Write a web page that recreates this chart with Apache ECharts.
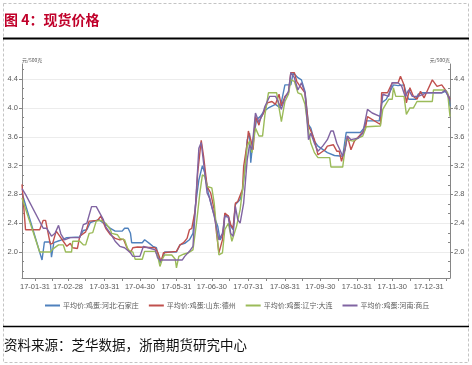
<!DOCTYPE html>
<html><head><meta charset="utf-8">
<script src="https://cdn.jsdelivr.net/npm/echarts@6/dist/echarts.min.js"></script>
<style>html,body{margin:0;padding:0;background:#fff}#c{width:472px;height:365px}</style>
</head><body><div id="c"></div>
<script>
const titleText = '图 4：现货价格';
const sourceText = '资料来源：芝华数据，浙商期货研究中心';
const unitName = '元/500克';
const seriesNames = ['平均价:鸡蛋:河北:石家庄', '平均价:鸡蛋:山东:德州', '平均价:鸡蛋:辽宁:大连', '平均价:鸡蛋:河南:商丘'];
const seriesColors = ['#4F81BD', '#C0504D', '#9BBB59', '#8064A2'];
const startDate = '2017-01-20';
const endDate = '2018-01-18';
const monthEndLabels = ['2017-01-31','2017-02-28','2017-03-31','2017-04-30','2017-05-31','2017-06-30','2017-07-31','2017-08-31','2017-09-30','2017-10-31','2017-11-30','2017-12-31'];
const yTickValues = [2.0, 2.4, 2.8, 3.2, 3.6, 4.0, 4.4];

const hebei = [['2017-01-20',2.82],['2017-02-06',1.89],['2017-02-08',2.14],['2017-02-13',2.14],['2017-02-14',1.93],['2017-02-16',2.13],['2017-02-21',2.16],['2017-02-27',2.20],['2017-03-10',2.21],['2017-03-13',2.30],['2017-03-16',2.31],['2017-03-19',2.41],['2017-03-26',2.45],['2017-04-01',2.38],['2017-04-05',2.33],['2017-04-09',2.29],['2017-04-15',2.29],['2017-04-17',2.33],['2017-04-20',2.33],['2017-04-22',2.26],['2017-04-23',2.13],['2017-05-02',2.13],['2017-05-04',2.17],['2017-05-08',2.12],['2017-05-11',2.08],['2017-05-14',2.06],['2017-05-17',1.85],['2017-05-20',1.95],['2017-05-21',2.00],['2017-05-31',2.00],['2017-06-03',2.10],['2017-06-07',2.12],['2017-06-11',2.17],['2017-06-14',2.26],['2017-06-16',2.63],['2017-06-19',3.00],['2017-06-22',3.20],['2017-06-24',3.10],['2017-06-27',2.82],['2017-06-30',2.63],['2017-07-03',2.45],['2017-07-05',2.36],['2017-07-07',2.17],['2017-07-10',2.26],['2017-07-11',2.52],['2017-07-14',2.50],['2017-07-16',2.36],['2017-07-18',2.31],['2017-07-20',2.66],['2017-07-24',2.73],['2017-07-26',2.85],['2017-07-28',3.14],['2017-07-30',3.56],['2017-08-01',3.65],['2017-08-02',3.24],['2017-08-04',3.56],['2017-08-07',3.84],['2017-08-10',3.88],['2017-08-13',3.95],['2017-08-17',4.00],['2017-08-23',4.05],['2017-08-27',4.00],['2017-08-28',4.02],['2017-08-31',4.32],['2017-09-05',4.32],['2017-09-07',4.49],['2017-09-11',4.42],['2017-09-14',4.39],['2017-09-17',4.23],['2017-09-20',3.77],['2017-09-22',3.72],['2017-09-25',3.54],['2017-09-28',3.47],['2017-10-06',3.38],['2017-10-12',3.34],['2017-10-19',3.33],['2017-10-22',3.66],['2017-11-03',3.66],['2017-11-06',3.72],['2017-11-08',3.82],['2017-11-19',3.82],['2017-11-21',4.07],['2017-11-25',4.12],['2017-11-27',4.19],['2017-12-01',4.32],['2017-12-05',4.31],['2017-12-10',4.32],['2017-12-12',4.19],['2017-12-14',4.12],['2017-12-20',4.12],['2017-12-22',4.19],['2017-12-25',4.21],['2018-01-11',4.21],['2018-01-14',4.23],['2018-01-17',4.16],['2018-01-18',4.02]];

const shandong = [['2017-01-20',2.94],['2017-01-23',2.31],['2017-02-04',2.31],['2017-02-07',2.44],['2017-02-09',2.44],['2017-02-13',2.11],['2017-02-15',2.12],['2017-02-18',2.29],['2017-02-21',2.22],['2017-02-24',2.15],['2017-02-27',2.08],['2017-03-02',2.12],['2017-03-04',2.06],['2017-03-08',2.05],['2017-03-10',2.22],['2017-03-15',2.28],['2017-03-18',2.43],['2017-03-25',2.44],['2017-03-28',2.50],['2017-03-30',2.41],['2017-04-01',2.33],['2017-04-05',2.24],['2017-04-06',2.26],['2017-04-09',2.19],['2017-04-13',2.17],['2017-04-16',2.18],['2017-04-19',2.06],['2017-04-22',1.99],['2017-04-24',2.06],['2017-04-28',2.07],['2017-05-13',2.06],['2017-05-15',2.00],['2017-05-18',1.87],['2017-05-20',1.99],['2017-05-31',2.01],['2017-06-03',2.10],['2017-06-06',2.13],['2017-06-09',2.19],['2017-06-11',2.31],['2017-06-13',2.33],['2017-06-16',2.59],['2017-06-18',3.10],['2017-06-21',3.55],['2017-06-23',3.33],['2017-06-26',2.91],['2017-06-29',2.82],['2017-07-02',2.59],['2017-07-04',2.26],['2017-07-06',1.99],['2017-07-09',2.17],['2017-07-11',2.54],['2017-07-14',2.50],['2017-07-16',2.38],['2017-07-18',2.33],['2017-07-20',2.68],['2017-07-22',2.70],['2017-07-26',2.87],['2017-07-27',3.19],['2017-07-30',3.51],['2017-07-31',3.68],['2017-08-02',3.56],['2017-08-04',3.42],['2017-08-06',3.88],['2017-08-09',3.76],['2017-08-10',3.85],['2017-08-13',3.93],['2017-08-16',4.07],['2017-08-20',4.09],['2017-08-23',4.05],['2017-08-26',4.19],['2017-08-28',4.03],['2017-08-31',4.16],['2017-09-03',4.21],['2017-09-05',4.49],['2017-09-08',4.49],['2017-09-10',4.37],['2017-09-12',4.32],['2017-09-17',4.21],['2017-09-20',3.75],['2017-09-22',3.68],['2017-09-25',3.56],['2017-09-28',3.35],['2017-10-04',3.42],['2017-10-06',3.47],['2017-10-11',3.49],['2017-10-14',3.40],['2017-10-16',3.40],['2017-10-18',3.26],['2017-10-21',3.44],['2017-10-23',3.61],['2017-10-26',3.42],['2017-10-29',3.54],['2017-11-02',3.61],['2017-11-07',3.70],['2017-11-09',3.88],['2017-11-20',3.77],['2017-11-21',4.21],['2017-11-26',4.21],['2017-11-30',4.35],['2017-12-05',4.35],['2017-12-07',4.44],['2017-12-10',4.32],['2017-12-12',4.07],['2017-12-15',4.28],['2017-12-18',4.16],['2017-12-21',4.12],['2017-12-24',4.23],['2017-12-27',4.14],['2017-12-29',4.21],['2018-01-03',4.39],['2018-01-07',4.30],['2018-01-11',4.32],['2018-01-15',4.23],['2018-01-18',4.12]];

const liaoning = [['2017-01-20',2.75],['2017-02-04',2.00],['2017-02-13',2.00],['2017-02-15',2.04],['2017-02-20',2.10],['2017-02-24',2.10],['2017-02-26',2.00],['2017-03-03',2.00],['2017-03-04',2.15],['2017-03-10',2.15],['2017-03-13',2.10],['2017-03-15',2.10],['2017-03-18',2.26],['2017-03-21',2.27],['2017-03-24',2.43],['2017-03-28',2.44],['2017-04-01',2.40],['2017-04-05',2.31],['2017-04-06',2.26],['2017-04-11',2.24],['2017-04-13',2.19],['2017-04-17',2.17],['2017-04-20',2.03],['2017-04-24',2.00],['2017-04-26',1.90],['2017-05-02',1.90],['2017-05-04',2.01],['2017-05-13',2.01],['2017-05-15',1.95],['2017-05-17',1.80],['2017-05-19',1.90],['2017-05-21',1.96],['2017-05-27',1.96],['2017-05-30',1.90],['2017-05-31',1.78],['2017-06-02',1.94],['2017-06-06',1.97],['2017-06-10',1.99],['2017-06-14',2.03],['2017-06-17',2.40],['2017-06-20',2.84],['2017-06-22',3.07],['2017-06-24',3.05],['2017-06-26',2.91],['2017-06-30',2.89],['2017-07-02',2.68],['2017-07-04',2.31],['2017-07-06',1.96],['2017-07-09',1.99],['2017-07-11',2.31],['2017-07-14',2.40],['2017-07-17',2.15],['2017-07-18',2.13],['2017-07-21',2.36],['2017-07-24',2.59],['2017-07-27',3.00],['2017-07-30',3.47],['2017-08-01',3.54],['2017-08-03',3.38],['2017-08-06',3.72],['2017-08-09',3.61],['2017-08-12',3.61],['2017-08-14',3.90],['2017-08-17',4.21],['2017-08-24',4.21],['2017-08-26',4.00],['2017-08-28',3.81],['2017-08-31',4.09],['2017-09-03',4.19],['2017-09-05',4.39],['2017-09-08',4.37],['2017-09-11',4.21],['2017-09-14',4.19],['2017-09-17',4.05],['2017-09-20',3.68],['2017-09-22',3.51],['2017-09-25',3.38],['2017-09-28',3.31],['2017-10-08',3.31],['2017-10-09',3.18],['2017-10-19',3.18],['2017-10-22',3.56],['2017-10-28',3.54],['2017-11-01',3.58],['2017-11-05',3.61],['2017-11-08',3.74],['2017-11-20',3.75],['2017-11-22',3.98],['2017-11-27',4.12],['2017-11-30',4.12],['2017-12-01',4.28],['2017-12-03',4.16],['2017-12-10',4.16],['2017-12-12',3.91],['2017-12-15',4.00],['2017-12-18',4.00],['2017-12-21',4.09],['2018-01-03',4.09],['2018-01-04',4.25],['2018-01-14',4.25],['2018-01-16',4.21],['2018-01-18',3.88]];

const henan = [['2017-01-20',2.88],['2017-01-23',2.80],['2017-02-07',2.33],['2017-02-10',2.33],['2017-02-14',2.22],['2017-02-17',2.26],['2017-02-20',2.37],['2017-02-22',2.25],['2017-02-25',2.17],['2017-03-02',2.20],['2017-03-10',2.20],['2017-03-13',2.38],['2017-03-16',2.40],['2017-03-20',2.63],['2017-03-24',2.63],['2017-03-27',2.54],['2017-03-30',2.45],['2017-04-01',2.35],['2017-04-05',2.26],['2017-04-09',2.15],['2017-04-13',2.08],['2017-04-17',2.06],['2017-04-22',1.99],['2017-04-24',1.94],['2017-04-30',1.94],['2017-05-03',2.08],['2017-05-07',2.06],['2017-05-13',2.03],['2017-05-15',1.92],['2017-05-17',1.89],['2017-06-05',1.89],['2017-06-07',1.94],['2017-06-11',2.01],['2017-06-14',2.08],['2017-06-16',2.60],['2017-06-19',3.44],['2017-06-21',3.52],['2017-06-24',3.10],['2017-06-26',2.82],['2017-06-28',2.75],['2017-07-02',2.50],['2017-07-06',2.17],['2017-07-09',2.26],['2017-07-11',2.50],['2017-07-14',2.48],['2017-07-16',2.26],['2017-07-18',2.22],['2017-07-20',2.63],['2017-07-22',2.45],['2017-07-24',2.40],['2017-07-27',2.68],['2017-07-30',3.28],['2017-08-01',3.49],['2017-08-03',3.42],['2017-08-06',3.93],['2017-08-09',3.80],['2017-08-12',3.91],['2017-08-14',4.02],['2017-08-18',4.16],['2017-08-23',4.16],['2017-08-25',4.10],['2017-08-28',3.98],['2017-08-31',4.14],['2017-09-03',4.23],['2017-09-05',4.49],['2017-09-08',4.42],['2017-09-11',4.25],['2017-09-14',4.35],['2017-09-17',4.21],['2017-09-20',3.56],['2017-09-22',3.65],['2017-09-25',3.51],['2017-09-28',3.40],['2017-10-02',3.47],['2017-10-06',3.56],['2017-10-09',3.68],['2017-10-11',3.68],['2017-10-14',3.51],['2017-10-16',3.44],['2017-10-19',3.33],['2017-10-21',3.42],['2017-10-23',3.61],['2017-10-26',3.56],['2017-11-01',3.58],['2017-11-05',3.65],['2017-11-09',3.98],['2017-11-13',3.93],['2017-11-20',3.88],['2017-11-22',4.19],['2017-11-27',4.16],['2017-11-30',4.35],['2017-12-05',4.35],['2017-12-08',4.30],['2017-12-11',4.16],['2017-12-14',4.25],['2017-12-17',4.16],['2017-12-22',4.16],['2017-12-29',4.21],['2018-01-11',4.21],['2018-01-14',4.25],['2018-01-17',4.14],['2018-01-18',4.10]];

const seriesData = [hebei, shandong, liaoning, henan];

function fmt(d) {
  const m = String(d.getUTCMonth() + 1).padStart(2, '0');
  const dd = String(d.getUTCDate()).padStart(2, '0');
  return d.getUTCFullYear() + '-' + m + '-' + dd;
}
const days = [];
for (let t = Date.parse(startDate + 'T00:00:00Z'); t <= Date.parse(endDate + 'T00:00:00Z'); t += 86400000) {
  days.push(fmt(new Date(t)));
}
const isMonthEnd = (v) => monthEndLabels.indexOf(v) >= 0;
const isTick = (v) => isMonthEnd(v) || v.slice(8) === '15';

// minor tick positions: thirds between the labelled ticks (styling only)
const yMinorTicks = [];
for (let i = -1; i < yTickValues.length; i++) {
  const base = i < 0 ? yTickValues[0] - 0.4 : yTickValues[i];
  for (let k = 1; k <= 2; k++) {
    const v = +(base + k * 0.4 / 3).toFixed(4);
    if (v > 1.64 && v < 4.61) yMinorTicks.push(v);
  }
}

const cjk = '"Noto Sans CJK SC", "Microsoft YaHei", sans-serif';
const latin = '"Liberation Sans", Arial, sans-serif';
const axisGray = '#868686';
const labelGray = '#595959';
const yMin = 1.64, yMax = 4.61;

function yAxisMain(pos) {
  return {
    type: 'value', position: pos, min: yMin, max: yMax,
    name: unitName, nameLocation: 'end', nameGap: 1,
    nameTextStyle: { fontSize: 5, color: labelGray, fontFamily: cjk, align: pos === 'left' ? 'left' : 'right', verticalAlign: 'bottom', padding: 0 },
    axisLine: { show: true, lineStyle: { color: axisGray, width: 1 } },
    axisTick: { show: true, length: 3, customValues: yTickValues, lineStyle: { color: axisGray } },
    axisLabel: {
      fontSize: 7.5, color: labelGray, fontFamily: latin, margin: 4,
      customValues: yTickValues, formatter: (v) => Number(v).toFixed(1)
    },
    splitLine: { show: pos === 'left', lineStyle: { color: '#ececec', width: 1 } }
  };
}
function yAxisMinor(pos) {
  return {
    type: 'value', position: pos, min: yMin, max: yMax,
    axisLine: { show: false },
    axisTick: { show: true, inside: true, length: 2, customValues: yMinorTicks, lineStyle: { color: axisGray } },
    axisLabel: { show: false },
    splitLine: { show: false }
  };
}

const chart = echarts.init(document.getElementById('c'), null, { renderer: 'canvas' });
chart.setOption({
  animation: false,
  backgroundColor: '#fff',
  grid: { left: 22, right: 22, top: 64, bottom: 87, containLabel: false },
  legend: {
    data: seriesNames, left: 40, top: 297, itemWidth: 15, itemHeight: 2, itemGap: 10,
    icon: 'rect',
    textStyle: { fontSize: 7, color: labelGray, fontFamily: cjk, padding: [0, 0, 0, -2] }
  },
  xAxis: {
    type: 'category', data: days, boundaryGap: false,
    axisLine: { lineStyle: { color: axisGray, width: 1 } },
    axisTick: { show: true, length: 3, interval: (i, v) => isTick(v), lineStyle: { color: axisGray } },
    axisLabel: { interval: (i, v) => isMonthEnd(v), formatter: (v) => v.slice(2), fontSize: 7.5, color: labelGray, fontFamily: latin, margin: 5, hideOverlap: false },
    splitLine: { show: false }
  },
  yAxis: [yAxisMain('left'), yAxisMain('right'), yAxisMinor('left'), yAxisMinor('right')],
  series: seriesNames.map((n, i) => ({
    name: n, type: 'line', data: seriesData[i], showSymbol: false, symbol: 'none', yAxisIndex: 0,
    color: seriesColors[i], lineStyle: { width: 1.4, color: seriesColors[i] }, z: 2 + i
  })),
  graphic: [
    { type: 'rect', shape: { x: 3.5, y: 3.5, width: 465, height: 359 }, style: { fill: 'none', stroke: '#c4c4c4', lineWidth: 1, lineDash: [3, 2] }, silent: true },
    { type: 'line', shape: { x1: 3, y1: 38.5, x2: 469, y2: 38.5 }, style: { stroke: '#000', lineWidth: 2 }, silent: true },
    { type: 'line', shape: { x1: 3, y1: 326.5, x2: 469, y2: 326.5 }, style: { stroke: '#000', lineWidth: 1.5 }, silent: true },
    { type: 'text', x: 4, y: 20, style: { text: titleText, fill: '#C0002A', fontSize: 14, fontWeight: 'bold', fontFamily: cjk, align: 'left', verticalAlign: 'middle' }, silent: true },
    { type: 'text', x: 4, y: 345, style: { text: sourceText, fill: '#111', fontSize: 13.5, fontFamily: cjk, align: 'left', verticalAlign: 'middle' }, silent: true }
  ]
});
</script>
</body></html>
